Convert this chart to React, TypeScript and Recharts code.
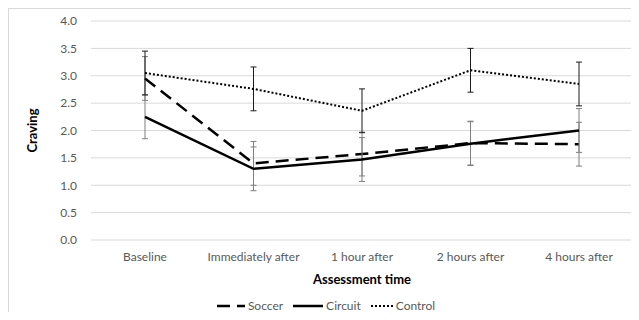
import { LineChart, Line, XAxis, YAxis, CartesianGrid, ErrorBar } from "recharts"

const categories = ["Baseline", "Immediately after", "1 hour after", "2 hours after", "4 hours after"]
const soccer = [2.95, 1.4, 1.57, 1.77, 1.75]
const circuit = [2.25, 1.3, 1.47, 1.76, 2.0]
const control = [3.05, 2.76, 2.36, 3.1, 2.85]
const soccerErr = [0.4, 0.4, 0.4, 0.4, 0.4]
const circuitErr = [0.4, 0.4, 0.4, 0.4, 0.4]
const controlErr = [0.4, 0.4, 0.4, 0.4, 0.4]
const yTicks = [0, 0.5, 1, 1.5, 2, 2.5, 3, 3.5, 4]

const data = categories.map((name, i) => ({
  name,
  soccer: soccer[i],
  circuit: circuit[i],
  control: control[i],
  soccerErr: soccerErr[i],
  circuitErr: circuitErr[i],
  controlErr: controlErr[i],
}))

const font = "Lato, 'Open Sans', sans-serif"
const textColor = "#595959"

const legendItems = [
  { label: "Soccer", dash: "13 7", width: 2.5, len: 28 },
  { label: "Circuit", dash: undefined, width: 2.5, len: 30 },
  { label: "Control", dash: "2 2", width: 2, len: 22 },
]

function ChartLegend() {
  return (
    <div
      style={{
        position: "absolute",
        top: 289,
        left: 0,
        width: 630,
        display: "flex",
        justifyContent: "center",
        alignItems: "center",
        gap: 10,
        fontFamily: font,
        fontSize: 12,
        color: textColor,
        paddingLeft: 4,
        boxSizing: "border-box",
      }}
    >
      {legendItems.map((it) => (
        <div key={it.label} style={{ display: "flex", alignItems: "center", gap: 3 }}>
          <svg width={it.len} height={10}>
            <line x1={0} y1={5} x2={it.len} y2={5} stroke="#000" strokeWidth={it.width} strokeDasharray={it.dash} />
          </svg>
          <span>{it.label}</span>
        </div>
      ))}
    </div>
  )
}

export default function App() {
  return (
    <div
      style={{
        position: "relative",
        width: 630,
        height: 311,
        borderTop: "1px solid #d9d9d9",
        borderLeft: "1px solid #d9d9d9",
        marginBottom: -8,
        background: "#fff",
      }}
    >
      <LineChart width={630} height={311} data={data} margin={{ top: 12, right: 6, left: 0, bottom: 30 }}>
        <CartesianGrid vertical={false} stroke="#d9d9d9" />
        <XAxis
          dataKey="name"
          height={50}
          padding={{ left: 54, right: 54 }}
          axisLine={false}
          tickLine={false}
          tickSize={0}
          tickMargin={12}
          tick={{ fill: textColor, fontSize: 12, fontFamily: font }}
          label={{
            value: "Assessment time",
            position: "insideBottom",
            offset: 6,
            style: { fill: "#000", fontSize: 13, fontWeight: 700, fontFamily: font },
          }}
        />
        <YAxis
          width={82}
          domain={[0, 4]}
          ticks={yTicks}
          axisLine={false}
          tickLine={false}
          tickSize={0}
          tickMargin={14}
          tickFormatter={(v: number) => v.toFixed(1)}
          tick={{ fill: textColor, fontSize: 12, fontFamily: font }}
          label={{
            value: "Craving",
            angle: -90,
            position: "insideLeft",
            offset: 23,
            style: { textAnchor: "middle", fill: "#000", fontSize: 13, fontWeight: 700, fontFamily: font },
          }}
        />
        <Line
          dataKey="soccer"
          stroke="#000"
          strokeWidth={2.5}
          strokeDasharray="13 7"
          dot={false}
          isAnimationActive={false}
        >
          <ErrorBar dataKey="soccerErr" width={3} stroke="#7f7f7f" strokeWidth={1} />
        </Line>
        <Line dataKey="circuit" stroke="#000" strokeWidth={2.5} dot={false} isAnimationActive={false}>
          <ErrorBar dataKey="circuitErr" width={3} stroke="#7f7f7f" strokeWidth={1} />
        </Line>
        <Line
          dataKey="control"
          stroke="#000"
          strokeWidth={2}
          strokeDasharray="2 2"
          dot={false}
          isAnimationActive={false}
        >
          <ErrorBar dataKey="controlErr" width={3} stroke="#1a1a1a" strokeWidth={1} />
        </Line>
      </LineChart>
      <ChartLegend />
    </div>
  )
}
